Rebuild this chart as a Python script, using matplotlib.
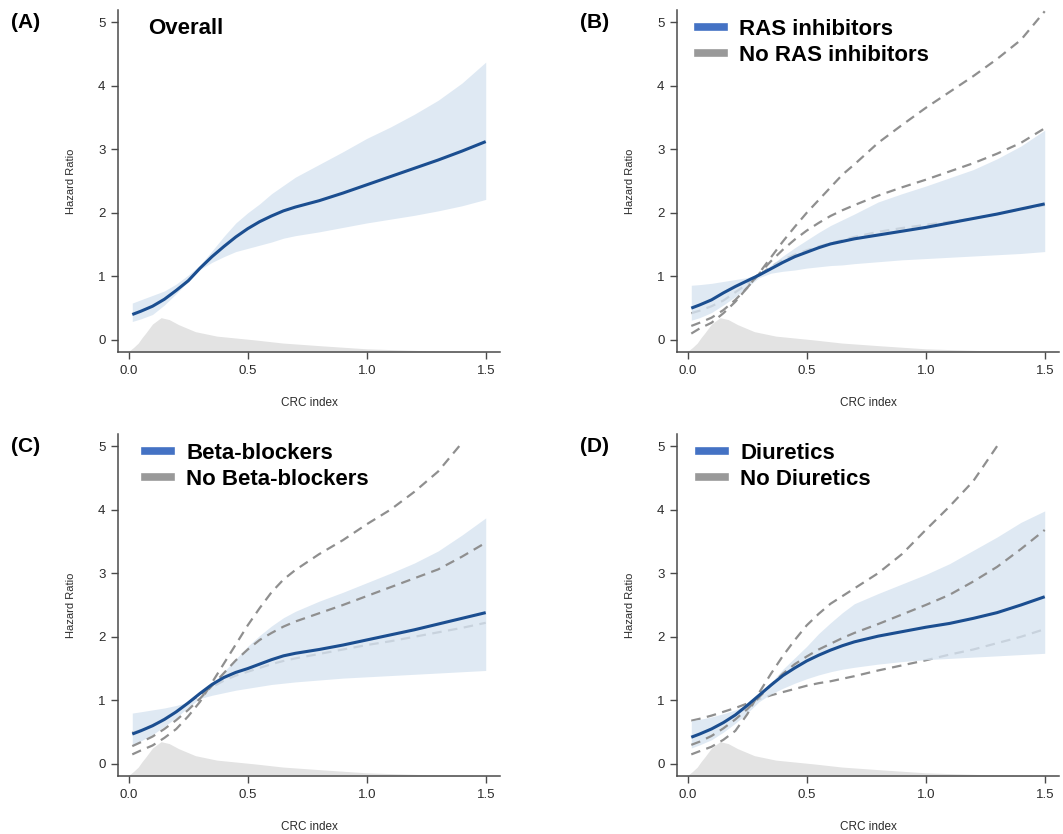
import numpy as np
import matplotlib
matplotlib.use("Agg")
import matplotlib.pyplot as plt
from matplotlib.lines import Line2D

plt.rcParams['font.family'] = ['Liberation Sans', 'DejaVu Sans']

# --- данные ---
crc = [0.015, 0.05, 0.1, 0.15, 0.2, 0.25, 0.3, 0.35, 0.4, 0.45, 0.5, 0.55, 0.6, 0.65, 0.7,
       0.8, 0.9, 1.0, 1.1, 1.2, 1.3, 1.4, 1.5]

# распределение CRC index (серая заливка внизу)
dens_x = [-0.045, 0.0, 0.02, 0.04, 0.055, 0.07, 0.1, 0.136, 0.17, 0.21, 0.28, 0.37, 0.53, 0.65, 0.8, 1.0, 1.25, 1.5]
dens_y = [-0.19, -0.18, -0.12, -0.05, 0.03, 0.10, 0.25, 0.35, 0.32, 0.24, 0.13, 0.06, 0.0, -0.05, -0.09, -0.14, -0.17, -0.185]

# (A) Overall
a_hr = [0.40, 0.45, 0.53, 0.64, 0.78, 0.93, 1.13, 1.31, 1.47, 1.62, 1.75, 1.86, 1.95, 2.03, 2.09,
        2.19, 2.31, 2.44, 2.57, 2.70, 2.83, 2.97, 3.12]
a_lo = [0.29, 0.33, 0.40, 0.55, 0.73, 0.92, 1.11, 1.22, 1.31, 1.39, 1.44, 1.49, 1.54, 1.60, 1.64,
        1.70, 1.77, 1.84, 1.90, 1.96, 2.03, 2.11, 2.21]
a_hi = [0.58, 0.63, 0.70, 0.77, 0.88, 1.02, 1.18, 1.40, 1.63, 1.84, 2.00, 2.14, 2.30, 2.43, 2.56,
        2.76, 2.96, 3.17, 3.35, 3.55, 3.77, 4.04, 4.37]

# (B) RAS inhibitors / No RAS inhibitors
b_hr = [0.50, 0.55, 0.63, 0.74, 0.84, 0.93, 1.02, 1.12, 1.22, 1.31, 1.38, 1.45, 1.51, 1.55, 1.59,
        1.65, 1.71, 1.77, 1.84, 1.91, 1.98, 2.06, 2.14]
b_lo = [0.31, 0.35, 0.43, 0.55, 0.68, 0.83, 0.98, 1.05, 1.08, 1.10, 1.13, 1.15, 1.17, 1.18, 1.20,
        1.23, 1.26, 1.28, 1.30, 1.32, 1.34, 1.36, 1.39]
b_hi = [0.86, 0.87, 0.89, 0.92, 0.95, 0.98, 1.04, 1.18, 1.32, 1.45, 1.57, 1.69, 1.80, 1.89, 1.98,
        2.17, 2.30, 2.42, 2.55, 2.68, 2.85, 3.05, 3.30]
b_no_hr = [0.22, 0.27, 0.35, 0.47, 0.63, 0.82, 1.04, 1.24, 1.42, 1.58, 1.72, 1.84, 1.95, 2.04, 2.12,
           2.27, 2.40, 2.52, 2.65, 2.78, 2.93, 3.10, 3.33]
b_no_lo = [0.42, 0.46, 0.53, 0.62, 0.75, 0.88, 1.02, 1.15, 1.26, 1.34, 1.41, 1.47, 1.52, 1.57, 1.62,
           1.70, 1.76, 1.81, 1.86, 1.91, 1.98, 2.05, 2.12]
b_no_hi = [0.10, 0.18, 0.27, 0.42, 0.60, 0.82, 1.05, 1.30, 1.55, 1.78, 2.00, 2.20, 2.40, 2.60, 2.76,
           3.10, 3.38, 3.65, 3.90, 4.15, 4.42, 4.72, 5.17]

# (C) Beta-blockers / No Beta-blockers
c_hr = [0.47, 0.52, 0.60, 0.70, 0.82, 0.96, 1.11, 1.25, 1.36, 1.44, 1.50, 1.57, 1.64, 1.70, 1.74,
        1.80, 1.87, 1.95, 2.03, 2.11, 2.20, 2.29, 2.38]
c_lo = [0.30, 0.36, 0.46, 0.59, 0.73, 0.89, 1.03, 1.08, 1.12, 1.16, 1.19, 1.22, 1.25, 1.27, 1.29,
        1.32, 1.35, 1.37, 1.39, 1.41, 1.43, 1.45, 1.47]
c_hi = [0.80, 0.82, 0.85, 0.88, 0.92, 0.97, 1.06, 1.25, 1.45, 1.65, 1.85, 2.02, 2.17, 2.30, 2.40,
        2.56, 2.70, 2.85, 3.00, 3.16, 3.35, 3.60, 3.87]
c_no_hr = [0.28, 0.34, 0.43, 0.55, 0.69, 0.85, 1.03, 1.23, 1.43, 1.63, 1.80, 1.95, 2.06, 2.16, 2.24,
           2.37, 2.50, 2.64, 2.78, 2.92, 3.06, 3.26, 3.48]
c_no_lo = [0.49, 0.53, 0.61, 0.71, 0.83, 0.96, 1.09, 1.21, 1.31, 1.39, 1.45, 1.51, 1.57, 1.62, 1.66,
           1.73, 1.80, 1.87, 1.93, 2.00, 2.07, 2.14, 2.22]
c_no_hi = [0.15, 0.21, 0.29, 0.41, 0.55, 0.75, 0.98, 1.28, 1.58, 1.88, 2.18, 2.45, 2.70, 2.90, 3.05,
           3.30, 3.52, 3.77, 4.00, 4.28, 4.60, 5.05]

# (D) Diuretics / No Diuretics
d_hr = [0.42, 0.47, 0.55, 0.65, 0.77, 0.92, 1.08, 1.24, 1.39, 1.51, 1.62, 1.71, 1.79, 1.86, 1.92,
        2.01, 2.08, 2.15, 2.21, 2.29, 2.38, 2.50, 2.63]
d_lo = [0.25, 0.30, 0.38, 0.50, 0.64, 0.80, 0.98, 1.10, 1.19, 1.27, 1.34, 1.40, 1.45, 1.49, 1.52,
        1.57, 1.61, 1.64, 1.66, 1.68, 1.70, 1.72, 1.74]
d_hi = [0.68, 0.70, 0.74, 0.79, 0.85, 0.93, 1.07, 1.28, 1.49, 1.67, 1.85, 2.05, 2.22, 2.38, 2.52,
        2.68, 2.83, 2.98, 3.15, 3.36, 3.57, 3.80, 3.98]
d_no_hr = [0.30, 0.35, 0.44, 0.56, 0.70, 0.86, 1.05, 1.24, 1.42, 1.57, 1.69, 1.80, 1.89, 1.98, 2.06,
           2.20, 2.35, 2.50, 2.66, 2.87, 3.10, 3.38, 3.68]
d_no_lo = [0.68, 0.71, 0.76, 0.82, 0.88, 0.95, 1.02, 1.08, 1.13, 1.18, 1.23, 1.27, 1.30, 1.34, 1.38,
           1.47, 1.55, 1.63, 1.72, 1.80, 1.90, 2.00, 2.12]
d_no_hi = [0.15, 0.20, 0.27, 0.38, 0.52, 0.78, 1.12, 1.42, 1.70, 1.95, 2.18, 2.36, 2.52, 2.64, 2.76,
           3.00, 3.30, 3.68, 4.05, 4.45, 5.00]

panels = [
    ("(A)", a_hr, a_lo, a_hi, None, "Overall"),
    ("(B)", b_hr, b_lo, b_hi, (b_no_hr, b_no_lo, b_no_hi), ("RAS inhibitors", "No RAS inhibitors")),
    ("(C)", c_hr, c_lo, c_hi, (c_no_hr, c_no_lo, c_no_hi), ("Beta-blockers", "No Beta-blockers")),
    ("(D)", d_hr, d_lo, d_hi, (d_no_hr, d_no_lo, d_no_hi), ("Diuretics", "No Diuretics")),
]

# цвета
blue_line = '#1b4e90'
band_col = '#d7e4f1'
gray_dash = '#8f8f8f'
dens_col = '#e3e3e3'
axis_col = '#4a4a4a'

W, H = 1063, 834
fig = plt.figure(figsize=(W / 100, H / 100), dpi=100)

# положение осей в пикселях: (лево, верх, право, низ)
boxes = [(118, 10, 500, 352), (677, 10, 1059, 352),
         (118, 434, 500, 776), (677, 434, 1059, 776)]
label_pos = [(11, 22), (580, 22), (11, 447), (580, 447)]
legend_x = [None, 21, 27, 22]

ylo, yhi = -0.19, 5.19
dash = (0, (4.3, 2.9))

for i, (tag, hr, lo, hi, other, title) in enumerate(panels):
    l, t, r, b = boxes[i]
    ax = fig.add_axes([l / W, 1 - b / H, (r - l) / W, (b - t) / H])

    ax.fill_between(dens_x, ylo, dens_y, color=dens_col, lw=0, zorder=1)

    if other is not None:
        o_hr, o_lo, o_hi = other
        # нижняя граница — под полупрозрачной полосой
        ax.plot(crc[:len(o_lo)], o_lo, color=gray_dash, lw=1.6, ls=dash, zorder=2)
    ax.fill_between(crc, lo, hi, color=band_col, alpha=0.8, lw=0, zorder=3)
    if other is not None:
        ax.plot(crc[:len(o_hi)], o_hi, color=gray_dash, lw=1.6, ls=dash, zorder=4)
        ax.plot(crc[:len(o_hr)], o_hr, color=gray_dash, lw=1.6, ls=dash, zorder=4)
    ax.plot(crc, hr, color=blue_line, lw=2.2, zorder=5, solid_capstyle='butt')

    ax.set_xlim(-0.045, 1.56)
    ax.set_ylim(ylo, yhi)
    ax.set_xticks([0.0, 0.5, 1.0, 1.5])
    ax.set_xticklabels(["0.0", "0.5", "1.0", "1.5"])
    ax.set_yticks([0, 1, 2, 3, 4, 5])
    for s in ['top', 'right']:
        ax.spines[s].set_visible(False)
    for s in ['left', 'bottom']:
        ax.spines[s].set_color(axis_col)
        ax.spines[s].set_linewidth(1.1)
    ax.tick_params(length=5, width=1.0, color=axis_col, labelsize=9.5,
                   labelcolor='#2b2b2b', pad=4)
    ax.set_xlabel("CRC index", fontsize=8.5, color='#2b2b2b')
    ax.set_ylabel("Hazard Ratio", fontsize=8, color='#2b2b2b')
    ax.xaxis.set_label_coords(0.5, -45 / (b - t))
    ax.yaxis.set_label_coords(-42 / (r - l), 0.5)

    if other is None:
        ax.text(30 / (r - l), 1 - 19 / (b - t), title, transform=ax.transAxes,
                fontsize=16, fontweight='bold', va='center', ha='left')
    else:
        handles = [Line2D([], [], color='#4472c4', lw=5.5),
                   Line2D([], [], color='#999999', lw=5.5)]
        ax.legend(handles, list(title), loc='upper left',
                  bbox_to_anchor=(legend_x[i] / (r - l), 1 - 9 / (b - t)),
                  frameon=False, borderpad=0, borderaxespad=0,
                  handlelength=1.15, handletextpad=0.7, labelspacing=0.23,
                  prop={'size': 16, 'weight': 'bold'})

    fig.text(label_pos[i][0] / W, 1 - label_pos[i][1] / H, tag,
             fontsize=15, fontweight='bold', va='center', ha='left')

fig.savefig("out.png", dpi=100)
